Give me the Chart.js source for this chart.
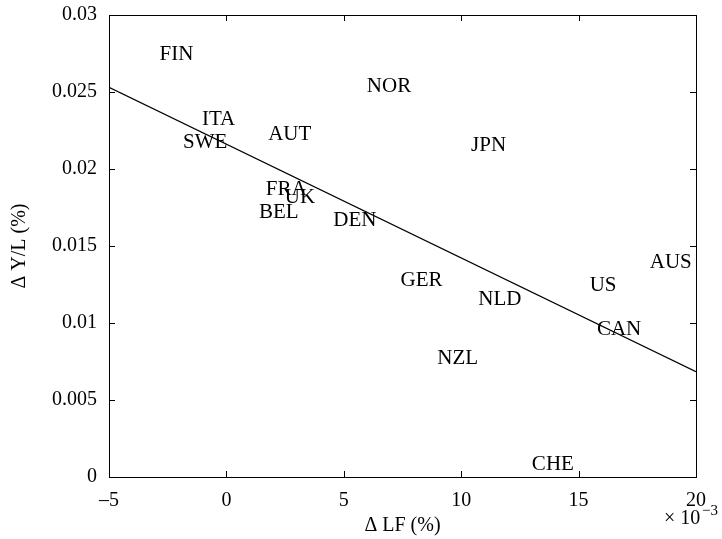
<!DOCTYPE html>
<html>
<head>
<meta charset="utf-8">
<script src="https://cdn.jsdelivr.net/npm/chart.js@4.4.1/dist/chart.umd.min.js"></script>
<style>
  html, body { margin: 0; padding: 0; background: #fff; }
  #wrap { width: 722px; height: 539px; }
</style>
</head>
<body>
<div id="wrap"><canvas id="chartCanvas" width="722" height="539"></canvas></div>
<script>
// country labels, x = change in labour force (x 10^-3 %), y = change in Y/L (%)
const countries = ['FIN', 'ITA', 'SWE', 'AUT', 'NOR', 'JPN', 'FRA', 'UK', 'BEL', 'DEN',
                   'GER', 'NLD', 'US', 'AUS', 'CAN', 'NZL', 'CHE'];
const lfValues = [-2.85, -1.04, -1.85, 1.78, 5.98, 10.42, 1.68, 2.49, 1.39, 4.55,
                  7.42, 10.73, 15.47, 18.03, 15.78, 8.98, 13.01];
const ylValues = [0.0275, 0.0233, 0.0218, 0.0223, 0.02545, 0.0216, 0.01875, 0.0182, 0.01727, 0.01669,
                  0.01284, 0.0116, 0.01251, 0.01398, 0.00966, 0.00777, 0.00089];

// fitted line end points
const fitX = [-5, 20];
const fitY = [0.0253, 0.00684];

const xTicks = [-5, 0, 5, 10, 15, 20];
const yTicks = [0, 0.005, 0.01, 0.015, 0.02, 0.025, 0.03];
const yTickLabels = ['0', '0.005', '0.01', '0.015', '0.02', '0.025', '0.03'];

const serif = '"Liberation Serif", "DejaVu Serif", serif';

let points = countries.map((c, i) => ({ x: lfValues[i], y: ylValues[i] }));
let fitLine = fitX.map((x, i) => ({ x: x, y: fitY[i] }));

// labels, box, inward ticks and the exponent note
const extras = {
    id: 'extras',
    afterDatasetsDraw(chart) {
        let c = chart.ctx;
        let xs = chart.scales.x;
        let ys = chart.scales.y;
        let a = chart.chartArea;

        c.save();
        c.fillStyle = '#000';
        c.font = '21px ' + serif;
        c.textAlign = 'left';
        c.textBaseline = 'middle';
        points.forEach((p, i) => {
            c.fillText(countries[i], xs.getPixelForValue(p.x), ys.getPixelForValue(p.y) + 1);
        });

        // box
        c.strokeStyle = '#000';
        c.lineWidth = 1;
        c.strokeRect(Math.round(a.left) + 0.5, Math.round(a.top) + 0.5,
                     Math.round(a.right - a.left), Math.round(a.bottom - a.top));

        // inward ticks on all four sides
        let len = 6;
        c.beginPath();
        xTicks.forEach(v => {
            let px = Math.round(xs.getPixelForValue(v)) + 0.5;
            c.moveTo(px, a.bottom); c.lineTo(px, a.bottom - len);
            c.moveTo(px, a.top); c.lineTo(px, a.top + len);
        });
        yTicks.forEach(v => {
            let py = Math.round(ys.getPixelForValue(v)) + 0.5;
            c.moveTo(a.left, py); c.lineTo(a.left + len, py);
            c.moveTo(a.right, py); c.lineTo(a.right - len, py);
        });
        c.stroke();

        // x 10^-3
        c.font = '20px ' + serif;
        c.textBaseline = 'alphabetic';
        c.fillText('\u00d7 10', 664, 524);
        c.font = '15px ' + serif;
        c.fillText('\u22123', 702, 515);
        c.restore();
    }
};

let ctx = document.getElementById('chartCanvas').getContext('2d');
let chart = new Chart(ctx, {
    type: 'scatter',
    data: {
        datasets: [{
            label: 'countries',
            data: points,
            pointRadius: 0,
            pointHoverRadius: 0
        }, {
            label: 'fit',
            data: fitLine,
            showLine: true,
            borderColor: '#000',
            borderWidth: 1.2,
            pointRadius: 0,
            fill: false
        }]
    },
    plugins: [extras],
    options: {
        responsive: false,
        animation: false,
        layout: { padding: { top: 15, right: 26, left: 0, bottom: 0 } },
        plugins: { legend: { display: false }, tooltip: { enabled: false } },
        scales: {
            x: {
                type: 'linear',
                min: -5, max: 20,
                afterBuildTicks: s => { s.ticks = xTicks.map(v => ({ value: v })); },
                afterFit: s => { s.height = 62; s.paddingLeft = 0; s.paddingRight = 0; },
                grid: { display: false, drawTicks: false },
                border: { display: false },
                ticks: {
                    color: '#000', padding: 12,
                    font: { family: serif, size: 20 },
                    callback: v => String(v).replace('-', '\u2013')
                },
                title: {
                    display: true, text: '\u0394 LF (%)', color: '#000',
                    font: { family: serif, size: 20 },
                    padding: { top: 0, bottom: 1 }
                }
            },
            y: {
                type: 'linear',
                min: 0, max: 0.03,
                afterBuildTicks: s => { s.ticks = yTicks.map(v => ({ value: v })); },
                afterFit: s => { s.width = 109; s.paddingTop = 0; s.paddingBottom = 0; },
                grid: { display: false, drawTicks: false },
                border: { display: false },
                ticks: {
                    color: '#000', padding: 12,
                    font: { family: serif, size: 20 },
                    callback: (v) => yTickLabels[yTicks.indexOf(v)]
                },
                title: {
                    display: true, text: '\u0394 Y/L (%)', color: '#000',
                    font: { family: serif, size: 20 },
                    padding: { top: 8, bottom: 0 }
                }
            }
        }
    }
});
</script>
</body>
</html>
